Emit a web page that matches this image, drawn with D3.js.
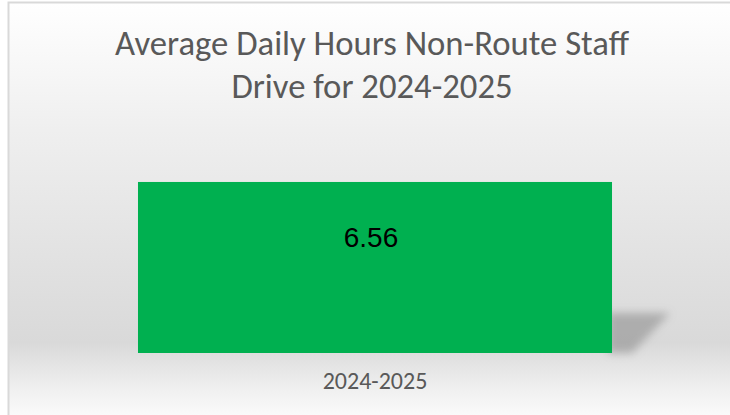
<!DOCTYPE html>
<html>
<head>
<meta charset="utf-8">
<script src="https://cdn.jsdelivr.net/npm/d3@7"></script>
<style>
  html, body { margin: 0; padding: 0; background: #ffffff; }
  svg { display: block; }
</style>
</head>
<body>
<div id="chart"></div>
<script>
// Chart data
const categories = ["2024-2025"];
const values = [6.56];
const valueLabels = ["6.56"];
const titleLines = ["Average Daily Hours Non-Route Staff", "Drive for 2024-2025"];

const width = 730, height = 415;

const svg = d3.select("#chart").append("svg")
  .attr("width", width)
  .attr("height", height);

const defs = svg.append("defs");

// Chart-area background: soft vertical grey gradient
const bg = defs.append("linearGradient")
  .attr("id", "bgGrad")
  .attr("x1", 0).attr("y1", 0).attr("x2", 0).attr("y2", 1);
[[0, "#ffffff"], [0.3, "#efefef"], [0.8, "#d9d9d9"], [0.9, "#eeeeee"], [1, "#ffffff"]]
  .forEach(([o, c]) => bg.append("stop").attr("offset", o).attr("stop-color", c));

// Blur used for the perspective shadow behind the bar
defs.append("filter")
  .attr("id", "shadowBlur")
  .attr("x", "-50%").attr("y", "-50%").attr("width", "200%").attr("height", "200%")
  .append("feGaussianBlur").attr("stdDeviation", 4);

// Chart frame
svg.append("rect")
  .attr("x", 8.5).attr("y", 2.5)
  .attr("width", width + 10).attr("height", height + 10)
  .attr("fill", "url(#bgGrad)")
  .attr("stroke", "#d9d9d9")
  .attr("stroke-width", 2);

// Title
const title = svg.append("text")
  .attr("text-anchor", "middle")
  .attr("fill", "#595959")
  .style("font-family", "Carlito, Calibri, 'Open Sans', sans-serif")
  .style("font-size", "34.7px");
titleLines.forEach((line, i) => {
  title.append("tspan")
    .attr("x", 372)
    .attr("y", 55 + i * 43)
    .text(line);
});

// Scales
const x = d3.scaleBand()
  .domain(categories)
  .range([45, 705])
  .paddingInner(0.164)
  .paddingOuter(0.164);

const y = d3.scaleLinear()
  .domain([0, 7])
  .range([353, 170.5]);

// Perspective shadow falling to the right of each bar
svg.append("g").selectAll("polygon")
  .data(values)
  .join("polygon")
  .attr("points", (d, i) => {
    const xr = x(categories[i]) + x.bandwidth();
    const y0 = y(0);
    const yt = y(0) - 40;
    return [[xr - 4, yt], [xr + 58, yt], [xr + 20, y0], [xr - 4, y0]].map(p => p.join(",")).join(" ");
  })
  .attr("fill", "#9a9a9a")
  .attr("opacity", 0.7)
  .attr("filter", "url(#shadowBlur)");

// Bars
svg.append("g").selectAll("rect")
  .data(values)
  .join("rect")
  .attr("x", (d, i) => x(categories[i]))
  .attr("y", d => y(d))
  .attr("width", x.bandwidth())
  .attr("height", d => y(0) - y(d))
  .attr("fill", "#00b050");

// Value labels
svg.append("g").selectAll("text")
  .data(values)
  .join("text")
  .attr("x", (d, i) => x(categories[i]) + x.bandwidth() / 2 - 4)
  .attr("y", d => y(d) + 65)
  .attr("text-anchor", "middle")
  .attr("fill", "#000000")
  .style("font-family", "Arial, 'Liberation Sans', sans-serif")
  .style("font-size", "28px")
  .text((d, i) => valueLabels[i]);

// Category axis (labels only)
const xAxis = svg.append("g")
  .attr("transform", `translate(0,${y(0)})`)
  .call(d3.axisBottom(x).tickSize(0).tickPadding(19));
xAxis.select(".domain").remove();
xAxis.selectAll("text")
  .attr("fill", "#595959")
  .style("font-family", "Carlito, Calibri, 'Open Sans', sans-serif")
  .style("font-size", "24px");
</script>
</body>
</html>
